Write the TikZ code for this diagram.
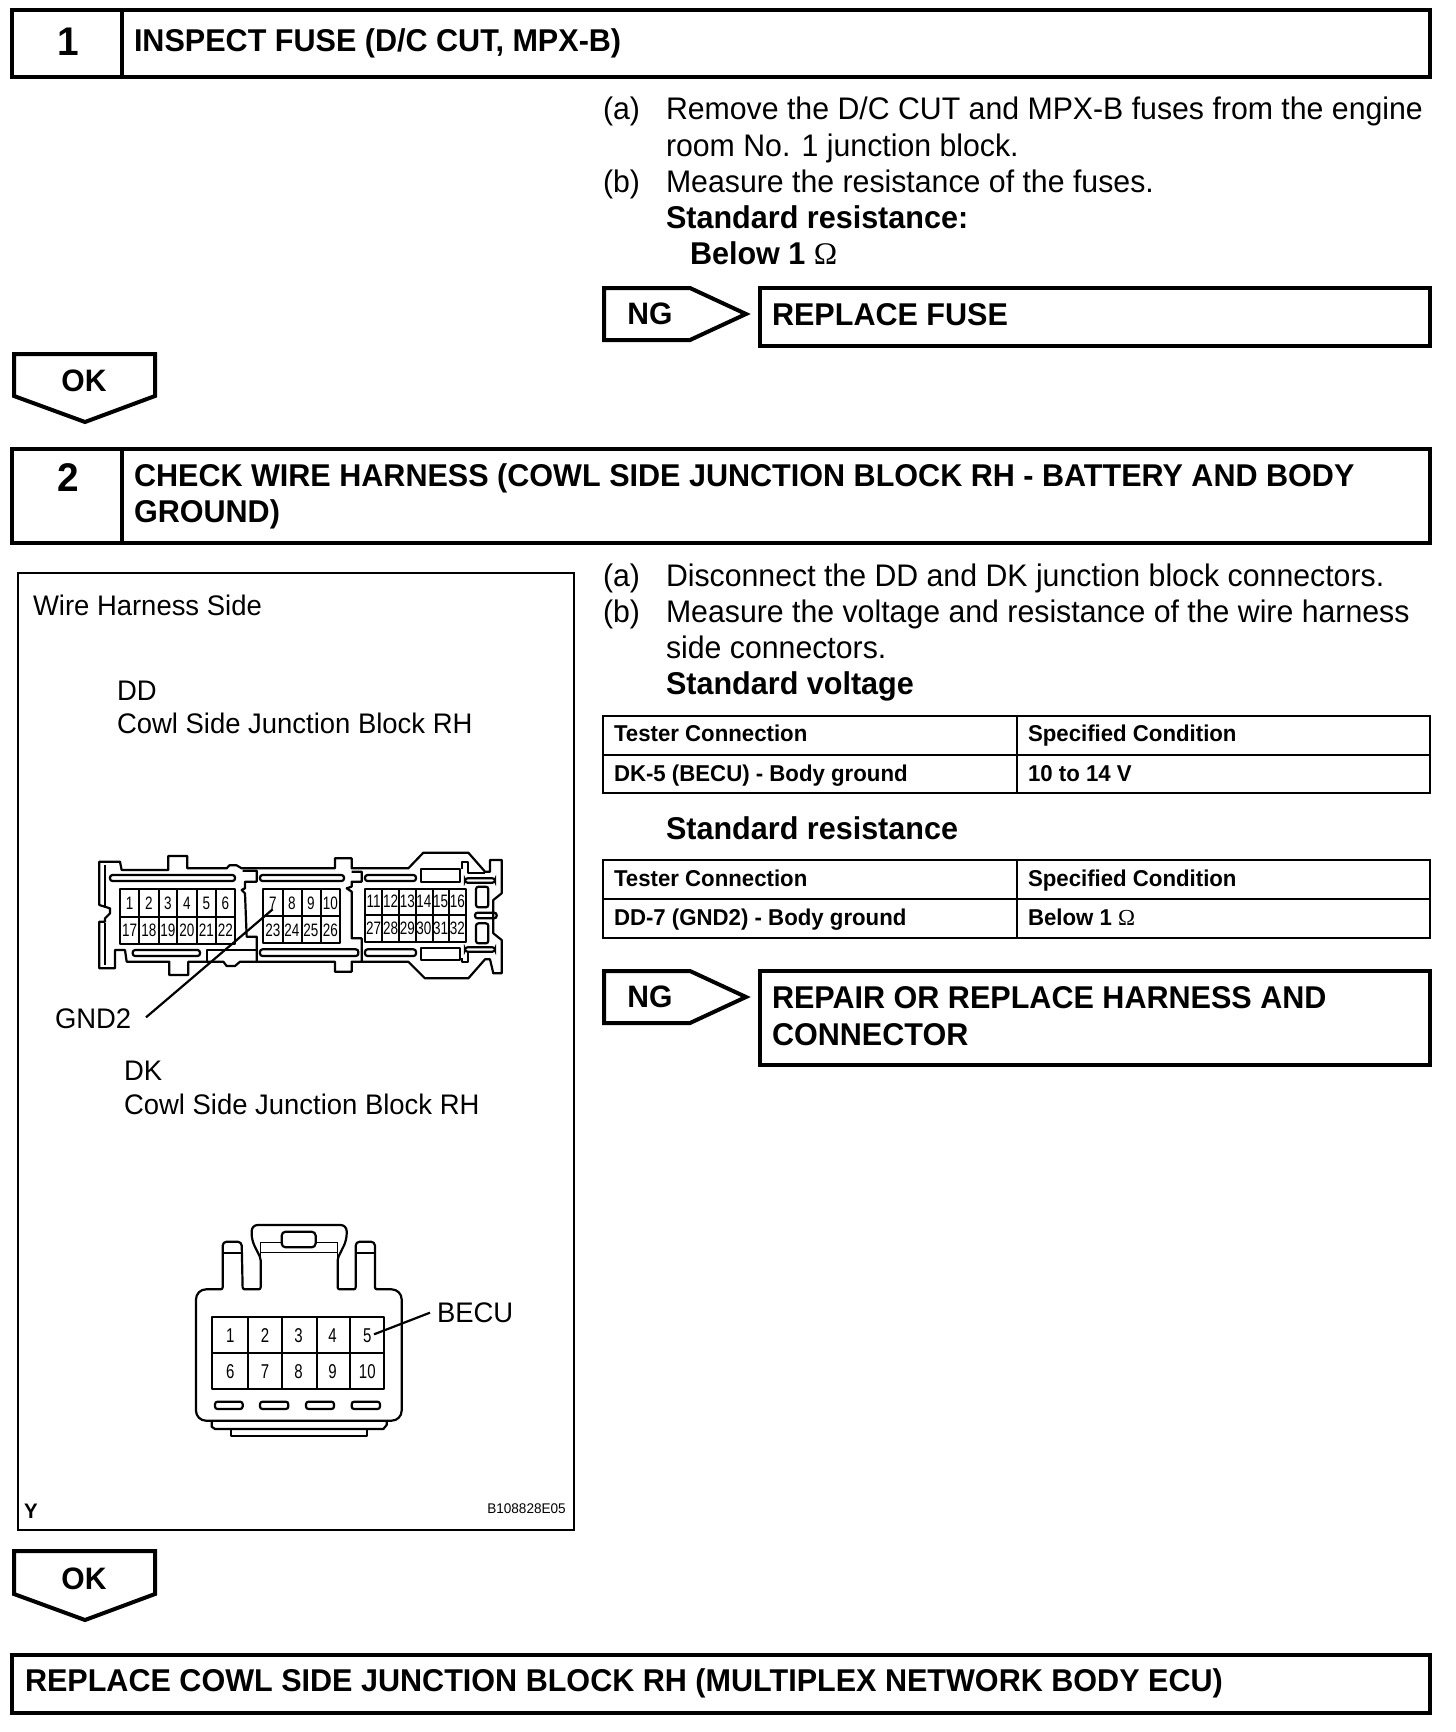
\documentclass[tikz,border=0pt]{standalone}
\usepackage{fontspec}
\setmainfont[FakeStretch=0.97]{Liberation Sans}
\newfontfamily\omegafont{Liberation Serif}
\newfontfamily\narrowf[FakeStretch=0.75]{Liberation Sans}
\newcommand{\fsz}[1]{\fontsize{#1}{#1}\selectfont}
\tikzset{
 x=1pt,y=-1pt,
 heavy/.style={line width=4pt,draw=black,line join=miter},
 tabline/.style={line width=2.6pt,draw=black},
 thin part/.style={line width=2.2pt,draw=black,line join=round},
 hair/.style={line width=1.3pt,draw=black},
 slot/.style={line width=2.2pt,draw=black,rounded corners=2.5pt},
 txt/.style={anchor=base west,inner sep=0pt,outer sep=0pt},
 body/.style={txt,font=\fsz{31.2}},
 bhead/.style={txt,font=\fsz{31.5}\bfseries},
 tabt/.style={txt,font=\fsz{22.9}\bfseries},
 lab/.style={txt,font=\fsz{28.3}},
 num/.style={anchor=base,inner sep=0pt,font=\fsz{40}\bfseries},
 tag/.style={anchor=base,inner sep=0pt,font=\fsz{31}\bfseries},
 pin/.style={anchor=center,inner sep=0pt,font=\narrowf\fsz{18}},
 pinb/.style={anchor=center,inner sep=0pt,font=\narrowf\fsz{20}},
}
\begin{document}
\begin{tikzpicture}
\useasboundingbox[fill=white] (0,0) rectangle (1456,1732);
% step 1
\draw[heavy] (12,10) rectangle (1430,77);
\draw[heavy] (122,10) -- (122,77);
\node[num] (n1) at (68,55) {1};
\node[bhead] (h1) at (134,51) {INSPECT FUSE (D/C CUT, MPX-B)};
\node[body] (a1) at (603,119) {(a)};
\node[body] (a1t) at (666,119) {Remove the D/C CUT and MPX-B fuses from the engine};
\node[body] (a1u) at (666,156) {room No. 1 junction block.};
\node[body] (b1) at (603,192) {(b)};
\node[body] (b1t) at (666,192) {Measure the resistance of the fuses.};
\node[bhead] (s1) at (666,228) {Standard resistance:};
\node[bhead] (s1v) at (690,264) {Below 1 {\omegafont\mdseries Ω}};
% NG 1
\draw[heavy] (604,288) -- (690,288) -- (746,314) -- (690,340) -- (604,340) -- cycle;
\node[tag] (ng1) at (650,324) {NG};
\draw[heavy] (760,288) rectangle (1430,346);
\node[bhead] (r1) at (772,325) {REPLACE FUSE};
% OK 1
\draw[heavy] (14,354) -- (155,354) -- (155,396) -- (85,422) -- (14,396) -- cycle;
\node[tag] (ok1) at (84,391) {OK};
% step 2
\draw[heavy] (12,449) rectangle (1430,543);
\draw[heavy] (122,449) -- (122,543);
\node[num] (n2) at (68,491) {2};
\node[bhead] (h2) at (134,486) {CHECK WIRE HARNESS (COWL SIDE JUNCTION BLOCK RH - BATTERY AND BODY};
\node[bhead] (h2b) at (134,522) {GROUND)};
\node[body] (a2) at (603,586) {(a)};
\node[body] (a2t) at (666,586) {Disconnect the DD and DK junction block connectors.};
\node[body] (b2) at (603,622) {(b)};
\node[body] (b2t) at (666,622) {Measure the voltage and resistance of the wire harness};
\node[body] (b2u) at (666,658) {side connectors.};
\node[bhead] (s2) at (666,694) {Standard voltage};
% table 1
\draw[tabline] (603,716) rectangle (1430,793);
\draw[tabline] (603,755) -- (1430,755);
\draw[tabline] (1017,716) -- (1017,793);
\node[tabt] (t11) at (614,741) {Tester Connection};
\node[tabt] (t12) at (1028,741) {Specified Condition};
\node[tabt] (t13) at (614,781) {DK-5 (BECU) - Body ground};
\node[tabt] (t14) at (1028,781) {10 to 14 V};
\node[bhead] (s3) at (666,839) {Standard resistance};
% table 2
\draw[tabline] (603,860) rectangle (1430,938);
\draw[tabline] (603,899) -- (1430,899);
\draw[tabline] (1017,860) -- (1017,938);
\node[tabt] (t21) at (614,886) {Tester Connection};
\node[tabt] (t22) at (1028,886) {Specified Condition};
\node[tabt] (t23) at (614,925) {DD-7 (GND2) - Body ground};
\node[tabt] (t24) at (1028,925) {Below 1 {\omegafont\mdseries Ω}};
% NG 2
\draw[heavy] (604,971) -- (690,971) -- (746,997) -- (690,1023) -- (604,1023) -- cycle;
\node[tag] (ng2) at (650,1007) {NG};
\draw[heavy] (760,971) rectangle (1430,1065);
\node[bhead] (r2) at (772,1008) {REPAIR OR REPLACE HARNESS AND};
\node[bhead] (r2b) at (772,1045) {CONNECTOR};
% panel
\draw[tabline] (18,573) rectangle (574,1530);
\node[lab] (w) at (33,615) {Wire Harness Side};
\node[lab] (dd) at (117,700) {DD};
\node[lab] (dd2) at (117,733) {Cowl Side Junction Block RH};
\node[lab] (gnd) at (55,1028) {GND2};
\node[lab] (dk) at (124,1080) {DK};
\node[lab] (dk2) at (124,1114) {Cowl Side Junction Block RH};
\node[lab] (be) at (437,1322) {BECU};
\node[txt,font=\fsz{21}\bfseries] (y) at (24,1518) {Y};
\node[anchor=base east,inner sep=0pt,font=\fsz{14}] (code) at (566,1513) {B108828E05};
% DD connector, in zoom coordinates
\begin{scope}[shift={(80,830)},x=0.33333pt,y=-0.33333pt]
\draw[thin part] (58,95)--(120,95)--(125,120)--(265,120)--(265,78)--(322,78)--(322,115)--(440,115)--(448,106)--(470,106)--(485,115)--(765,115)--(765,85)--(815,85)--(815,115)--(985,115)--(1030,68)--(1165,68)--(1215,125)--(1230,125)--(1230,90)--(1265,90)--(1265,190)--(1240,210)--(1240,310)--(1265,330)--(1265,430)--(1240,430)--(1230,388)--(1215,388)--(1165,445)--(1035,445)--(985,395)--(815,395)--(815,425)--(765,425)--(765,395)--(480,395)--(465,408)--(440,408)--(430,395)--(325,395)--(325,435)--(268,435)--(268,395)--(140,395)--(135,360)--(105,360)--(105,415)--(58,415)--(58,275)--(75,275)--(75,265)--(90,250)--(90,235)--(58,225)--cycle;
\draw[hair] (75,105)--(75,230) (75,280)--(75,405);
\foreach \a/\b/\c/\d in {90/135/465/153,158/360/360/378,540/135/792/153,540/358/835/378,855/135/1008/153,855/358/1008/378,1155/145/1245/158,1155/352/1245/365,1185/248/1250/265}
 \draw[slot] (\a,\b) rectangle (\c,\d);
\draw[slot] (1188,170) rectangle (1225,232);
\draw[slot] (1188,280) rectangle (1225,340);
\draw[thin part] (488,122)--(530,122)--(530,155)--(495,155)--(495,175)--(485,180)--(495,190)--(500,320)--(530,320)--(530,395);
\draw[thin part] (380,395)--(380,360)--(530,360);
\draw[thin part] (815,125)--(845,125)--(845,155)--(815,155)--(815,170)--(800,175)--(815,185)--(815,325)--(845,325)--(845,395);
\draw[thin part] (1022,118)--(1140,118)--(1140,157)--(1022,157)--cycle;
\draw[thin part] (1022,355)--(1140,355)--(1140,390)--(1022,390)--cycle;
\draw[thin part] (1145,118)--(1145,95)--(1165,95)--(1165,130)--(1215,130);
\draw[thin part] (1165,365)--(1165,395)--(1145,395)--(1145,385);
% grids
\draw[thin part] (120,178) rectangle (465,342) (120,260)--(465,260);
\foreach \c in {178,236,292,350,408} \draw[thin part] (\c,178)--(\c,342);
\draw[thin part] (550,178) rectangle (780,340) (550,258)--(780,258);
\foreach \c in {608,665,722} \draw[thin part] (\c,178)--(\c,340);
\draw[thin part] (855,178) rectangle (1158,335) (855,255)--(1158,255);
\foreach \c in {907,957,1007,1058,1107} \draw[thin part] (\c,178)--(\c,335);
\foreach \n/\c in {1/149,2/207,3/264,4/321,5/379,6/436}
 \node[pin] (p\n) at (\c,219) {\n};
\foreach \n/\c in {17/149,18/207,19/264,20/321,21/379,22/436}
 \node[pin] (p\n) at (\c,301) {\n};
\foreach \n/\c in {7/579,8/636,9/693,10/751}
 \node[pin] (p\n) at (\c,219) {\n};
\foreach \n/\c in {23/579,24/636,25/693,26/751}
 \node[pin] (p\n) at (\c,300) {\n};
\foreach \n/\c in {11/881,12/932,13/982,14/1032,15/1082,16/1132}
 \node[pin] (p\n) at (\c,214) {\n};
\foreach \n/\c in {27/881,28/932,29/982,30/1032,31/1082,32/1132}
 \node[pin] (p\n) at (\c,295) {\n};
\coordinate (g1) at (198,562);
\coordinate (g2) at (578,238);
\draw[thin part] (g1)--(g2);
\end{scope}
% DK connector, in zoom coordinates
\begin{scope}[shift={(170,1200)},x=0.33333pt,y=-0.33333pt]
\draw[thin part,rounded corners=10pt] (78,400)--(78,268)[rounded corners=2pt]--(158,268)[rounded corners=4pt]--(158,125)--(215,125)[rounded corners=2pt]--(218,268)--(272,268)--(272,175)[rounded corners=6pt]--(245,120)--(245,75)--(530,75)--(530,120)[rounded corners=2pt]--(503,175)--(503,268)--(557,268)[rounded corners=4pt]--(557,125)--(615,125)[rounded corners=2pt]--(615,268)[rounded corners=10pt]--(695,268)--(695,662)--(78,662)--cycle;
\draw[thin part] (125,662)--(125,680)--(135,687)--(640,687)--(650,675)--(650,662);
\draw[thin part] (183,687)--(183,708)--(592,708)--(592,687);
\draw[thin part] (158,158)--(215,158) (557,158)--(615,158);
\draw[hair] (272,127)--(335,127) (437,127)--(503,127) (272,157)--(503,157) (272,127)--(272,175) (503,127)--(503,175);
\draw[slot,rounded corners=4pt] (335,95) rectangle (437,142);
\draw[thin part] (127,350) rectangle (643,567) (127,460)--(643,460);
\foreach \c in {235,337,440,541} \draw[thin part] (\c,350)--(\c,567);
\foreach \a/\c in {135/218,270/355,408/492,545/630} \draw[slot] (\a,605) rectangle (\c,627);
\foreach \n/\c in {1/181,2/285,3/386,4/488,5/592}
 \node[pinb] (q\n) at (\c,408) {\n};
\foreach \n/\c in {6/181,7/285,8/386,9/488,10/592}
 \node[pinb] (q\n) at (\c,516) {\n};
\coordinate (b1) at (612,403);
\coordinate (b2) at (780,338);
\draw[thin part] (b1)--(b2);
\end{scope}
% OK 2
\draw[heavy] (14,1551) -- (155,1551) -- (155,1594) -- (85,1620) -- (14,1594) -- cycle;
\node[tag] (ok2) at (84,1589) {OK};
% final
\draw[heavy] (12,1655) rectangle (1430,1713);
\node[bhead] (fin) at (25,1691) {REPLACE COWL SIDE JUNCTION BLOCK RH (MULTIPLEX NETWORK BODY ECU)};
\end{tikzpicture}
\end{document}
